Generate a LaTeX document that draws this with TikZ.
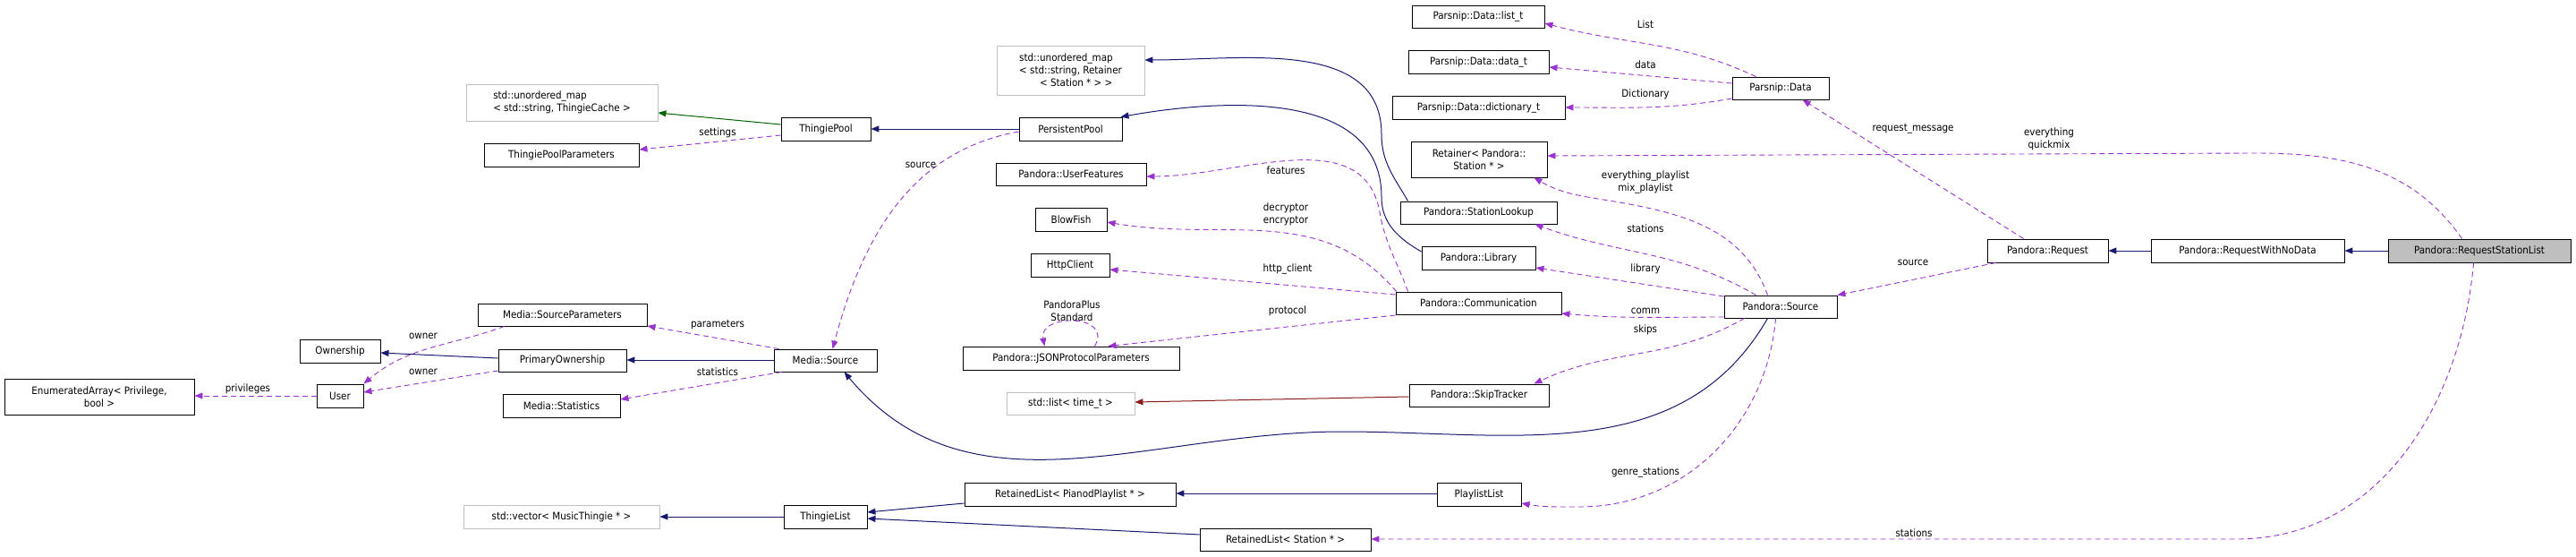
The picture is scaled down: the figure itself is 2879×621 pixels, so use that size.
\documentclass[tikz,border=0pt]{standalone}
\usepackage{fontspec}
\setmainfont{DejaVu Sans Condensed}
\usetikzlibrary{arrows.meta}
\definecolor{navy}{HTML}{191970}
\definecolor{dgreen}{HTML}{006400}
\definecolor{dred}{HTML}{8B1A1A}
\definecolor{purp}{HTML}{9A32CD}
\definecolor{gbord}{HTML}{BFBFBF}
\newcommand\bx[7][]{\node[box,#1,minimum width={#4-#2},minimum height={#5-#3}] (#6) at ({(#2+#4)/2},{(#3+#5)/2}) {#7};}
\begin{document}
\begin{tikzpicture}[x=1pt,y=-1pt,
  every node/.style={font=\fontsize{11.5}{14}\selectfont},
  box/.style={draw=black,line width=0.9pt,inner sep=0pt,align=center,fill=white},
  gbox/.style={draw=gbord},
  tip/.style={-{Triangle[length=9pt,width=7pt]}},
  inh/.style={tip,draw=navy,line width=1pt},
  use/.style={tip,draw=purp,dash pattern=on 6pt off 4pt,line width=0.9pt},
  lab/.style={inner sep=1pt,align=center}]
\useasboundingbox (0,0) rectangle (2879,621);
% nodes
\bx[gbox,align=left]{521}{94}{735}{135}{umapTC}{std::unordered\_map\\< std::string, ThingieCache >}
\bx{873}{131}{973}{157}{tpool}{ThingiePool}
\bx{541}{160}{714}{186}{tpp}{ThingiePoolParameters}
\bx{534}{339}{723}{364}{msp}{Media::SourceParameters}
\bx{335}{379}{425}{405}{own}{Ownership}
\bx{557}{390}{700}{415}{pown}{PrimaryOwnership}
\bx{865}{390}{980}{415}{msrc}{Media::Source}
\bx{5}{423}{217}{463}{enarr}{EnumeratedArray< Privilege,\\bool >}
\bx{354}{429}{406}{455}{user}{User}
\bx{562}{440}{693}{466}{mstat}{Media::Statistics}
\bx[gbox]{518}{564}{737}{590}{svec}{std::vector< MusicThingie * >}
\bx{876}{564}{969}{590}{tlist}{ThingieList}
\bx[gbox,align=left]{1114}{51}{1279}{106}{umapR}{std::unordered\_map\\< std::string, Retainer\\\hspace*{2em}< Station * > >}
\bx{1139}{131}{1254}{157}{ppool}{PersistentPool}
\bx{1113}{182}{1281}{207}{ufeat}{Pandora::UserFeatures}
\bx{1157}{232}{1237}{258}{bfish}{BlowFish}
\bx{1152}{283}{1240}{309}{http}{HttpClient}
\bx{1076}{387}{1318}{413}{json}{Pandora::JSONProtocolParameters}
\bx[gbox]{1125}{438}{1268}{463}{slist}{std::list< time\_t >}
\bx{1078}{539}{1314}{565}{rlpp}{RetainedList< PianodPlaylist * >}
\bx{1341}{590}{1532}{615}{rlst}{RetainedList< Station * >}
\bx{1578}{6}{1726}{31}{plist}{Parsnip::Data::list\_t}
\bx{1574}{56}{1731}{82}{pdata}{Parsnip::Data::data\_t}
\bx{1556}{107}{1749}{133}{pdict}{Parsnip::Data::dictionary\_t}
\bx{1577}{158}{1729}{198}{ret}{Retainer< Pandora::\\Station * >}
\bx{1565}{225}{1740}{250}{slook}{Pandora::StationLookup}
\bx{1589}{275}{1716}{301}{lib}{Pandora::Library}
\bx{1560}{326}{1745}{351}{comm}{Pandora::Communication}
\bx{1575}{429}{1731}{454}{skip}{Pandora::SkipTracker}
\bx{1606}{539}{1700}{565}{pll}{PlaylistList}
\bx{1936}{86}{2044}{111}{pd}{Parsnip::Data}
\bx{1927}{330}{2053}{355}{psrc}{Pandora::Source}
\bx{2221}{267}{2356}{293}{req}{Pandora::Request}
\bx{2404}{267}{2620}{293}{rwnd}{Pandora::RequestWithNoData}
\bx[fill=gbord]{2669}{267}{2873}{293}{rsl}{Pandora::RequestStationList}
% inheritance etc.
\draw[tip,draw=dgreen,line width=1pt] (tpool.west|-0,139) -- (umapTC.east|-0,126);
\draw[inh] (ppool.west|-0,144) -- (tpool.east|-0,144);
\draw[inh] (pown.west|-0,400) -- (own.east|-0,394);
\draw[inh] (msrc.west|-0,402) -- (pown.east|-0,402);
\draw[inh] ([xshift=49pt]psrc.south west) to[out=-120,in=0] (1500,482) to[out=180,in=-50] ([xshift=79pt]msrc.south west);
\draw[inh] (pll.west|-0,551) -- (rlpp.east|-0,551);
\draw[inh] (rlpp.west|-0,562) -- (tlist.east|-0,572);
\draw[inh] (rlst.west|-0,597) -- (tlist.east|-0,579);
\draw[inh] (tlist.west|-0,577) -- (svec.east|-0,577);
\draw[inh] ([xshift=9pt]slook.north west) to[out=120,in=-90] (1544,150) to[out=90,in=0] (umapR.east|-0,67);
\draw[inh] (lib.west|-0,281) to[out=150,in=-90] (1544,220) to[out=90,in=10] ([xshift=-2pt]ppool.north east);
\draw[tip,draw=dred,line width=1pt] (skip.west|-0,443) -- (slist.east|-0,449);
\draw[inh] (rwnd.west) -- (req.east);
\draw[inh] (rsl.west) -- (rwnd.east);
% usage
\draw[use] (tpool.west|-0,151) -- (tpp.east|-0,167);
\draw[use] (ppool.west|-0,147) to[out=190,in=75] ([xshift=66pt]msrc.north west);
\draw[use] ([xshift=6pt]msrc.north west) -- (msp.east|-0,364);
\draw[use] ([xshift=9pt]msrc.south west) -- (mstat.east|-0,446);
\draw[use] ([xshift=30pt]msp.south west) to[out=200,in=40] (user.north east);
\draw[use] (pown.west|-0,414) -- (user.east|-0,438);
\draw[use] (user.west|-0,442) -- (enarr.east|-0,442);
\draw[use] ([xshift=27pt]pd.north west) to[out=155,in=-15] (plist.east|-0,26);
\draw[use] (pd.west|-0,93) -- (pdata.east|-0,75);
\draw[use] (pd.west|-0,110) to[out=190,in=0] (pdict.east|-0,120);
\draw[use] ([xshift=14pt]comm.north west) to[out=110,in=-80] (1542,237) to[out=100,in=0] (ufeat.east|-0,197);
\draw[use] ([xshift=1pt]comm.north west) to[out=130,in=-10] (bfish.east|-0,248);
\draw[use] (comm.west|-0,329) -- (http.east|-0,301);
\draw[use] (comm.west|-0,352) -- ([xshift=-80pt]json.north east);
\draw[use] ([xshift=-95pt]json.north east) .. controls (1245,350) and (1160,350) .. ([xshift=-151pt]json.north east);
\draw[use] ([xshift=49pt]psrc.north west) to[out=110,in=-10] (1810,226) to[out=170,in=-30] ([xshift=-15pt]ret.south east);
\draw[use] ([xshift=36pt]psrc.north west) to[out=150,in=-20] ([xshift=-25pt]slook.south east);
\draw[use] (psrc.west|-0,331) -- (lib.east|-0,299);
\draw[use] (psrc.west|-0,354) to[out=180,in=-5] (comm.east|-0,350);
\draw[use] ([xshift=23pt]psrc.south west) to[out=-150,in=25] ([xshift=-17pt]skip.north east);
\draw[use] ([xshift=58pt]psrc.south west) to[out=-95,in=0] (1765,566) to[out=180,in=-10] (pll.east|-0,562);
\draw[use] ([xshift=41pt]req.north west) -- ([xshift=79pt]pd.south west);
\draw[use] ([xshift=10pt]req.south west) -- (psrc.north east);
\draw[use] ([xshift=83pt]rsl.north west) to[out=125,in=0] (2520,171) -- (ret.east|-0,174);
\draw[use] ([xshift=96pt]rsl.south west) to[out=-95,in=0] (2500,602) -- (rlst.east|-0,602);
% labels
\node[lab] (l1) at (802,148) {settings};
\node[lab] (l2) at (1029,184) {source};
\node[lab] (l3) at (802,363) {parameters};
\node[lab] (l4) at (473,375) {owner};
\node[lab] (l5) at (473,415) {owner};
\node[lab] (l6) at (802,415) {statistics};
\node[lab] (l7) at (277,434) {privileges};
\node[lab] (l8) at (1839,27) {List};
\node[lab] (l9) at (1839,72) {data};
\node[lab] (l10) at (1839,105) {Dictionary};
\node[lab] (l11) at (1437,190) {features};
\node[lab] (l12) at (1437,239) {decryptor\\encryptor};
\node[lab] (l13) at (1439,300) {http\_client};
\node[lab] (l14) at (1439,347) {protocol};
\node[lab] (l15) at (1198,347) {PandoraPlus\\Standard};
\node[lab] (l16) at (1839,203) {everything\_playlist\\mix\_playlist};
\node[lab] (l17) at (1839,255) {stations};
\node[lab] (l18) at (1839,300) {library};
\node[lab] (l19) at (1839,347) {comm};
\node[lab] (l20) at (1839,368) {skips};
\node[lab] (l21) at (1839,527) {genre\_stations};
\node[lab] (l22) at (2138,144) {request\_message};
\node[lab] (l23) at (2290,155) {everything\\quickmix};
\node[lab] (l24) at (2138,293) {source};
\node[lab] (l25) at (2139,595) {stations};
\end{tikzpicture}
\end{document}
